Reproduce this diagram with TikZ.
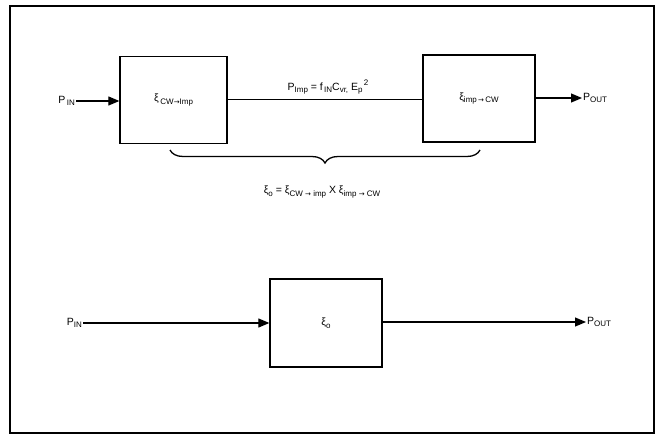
\documentclass[tikz,border=0pt]{standalone}
\usepackage{fontspec}
\setmainfont{Liberation Sans}
\newfontfamily\dvfont{DejaVu Sans}
\usetikzlibrary{arrows.meta,decorations.pathreplacing}
\newcommand{\lowtxt}[1]{\raisebox{-0.45ex}{\fontsize{8}{9}\selectfont #1}}
\newcommand{\hightxt}[1]{\raisebox{0.9ex}{\fontsize{8}{9}\selectfont #1}}
\newcommand{\rar}{{\dvfont\fontsize{7}{8}\selectfont →}}
\begin{document}
\begin{tikzpicture}[x=1pt,y=-1pt,
  blk/.style={draw,line width=1.3pt,inner sep=0pt},
  lab/.style={font=\fontsize{10.5}{12}\selectfont,inner sep=1pt},
  conn/.style={line width=1.1pt},
  arr/.style={line width=1.2pt,-{Triangle[length=11pt,width=9pt]}}]
\useasboundingbox (0,0) rectangle (657,436);
\draw[line width=1.4pt] (10,6) rectangle (654,433);
% top row
\node[blk,minimum width=107pt,minimum height=87pt] (b1) at (173.5,100) {};
\node[blk,minimum width=112pt,minimum height=87pt] (b2) at (479,98.5) {};
\node[lab] (t1) at (b1.center) {ξ\,\lowtxt{CW\rar Imp}};
\node[lab] (t2) at (b2.center) {ξ\lowtxt{imp\,\rar\,CW}};
\node[lab,anchor=east] (pin1) at (76,101) {P\lowtxt{\,IN}};
\node[lab,anchor=west] (pout1) at (582,98) {P\lowtxt{OUT}};
\draw[arr] (pin1.east) -- (b1.west |- pin1.east);
\draw[conn] (b1.east |- 0,99.5) coordinate (m1) -- (b2.west |- m1);
\draw[arr] (b2.east |- pout1.west) -- (pout1.west);
\node[lab] (pimp) at (328,87) {P\lowtxt{Imp} = f\lowtxt{\,IN}C\lowtxt{vr,} E\lowtxt{p}\hightxt{\,2}};
\coordinate (brl) at (170,150);
\coordinate (brr) at (480,150);
\draw[line width=1.3pt,decorate,decoration={brace,amplitude=13pt,raise=0pt}] (brr) -- (brl);
\node[lab] (eq) at (322,192) {ξ\lowtxt{o} = ξ\lowtxt{CW \rar\ imp} X ξ\lowtxt{imp \rar\ CW}};
% bottom row
\node[blk,minimum width=112pt,minimum height=88pt] (b3) at (326,323) {};
\node[lab] (t3) at (b3.center) {ξ\lowtxt{o}};
\node[lab,anchor=east] (pin2) at (83,323) {P\lowtxt{IN}};
\node[lab,anchor=west] (pout2) at (586,322) {P\lowtxt{OUT}};
\draw[arr] (pin2.east) -- (b3.west |- pin2.east);
\draw[arr] (b3.east |- pout2.west) -- (pout2.west);
\end{tikzpicture}
\end{document}
